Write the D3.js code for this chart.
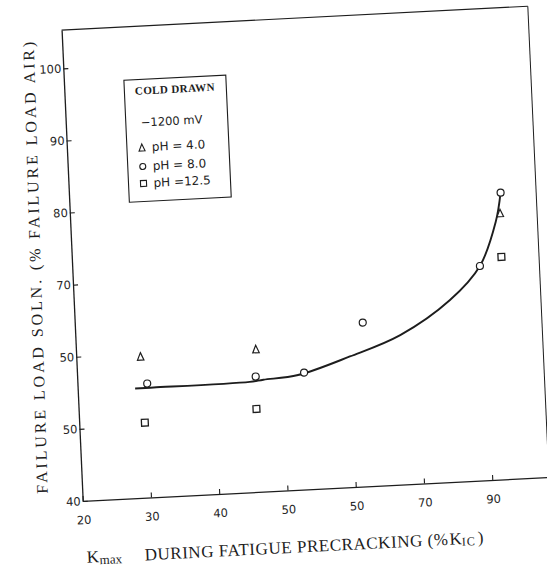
<!DOCTYPE html>
<html><head><meta charset="utf-8">
<script src="https://cdn.jsdelivr.net/npm/d3@7"></script>
<style>html,body{margin:0;padding:0;background:#fff;} svg{display:block}</style>
</head><body>
<svg id="chart" width="547" height="576"></svg>
<script>
// ---- data ----
const xTickValues = [20, 30, 40, 50, 60, 70, 80];
const xTickLabels = ["20", "30", "40", "50", "50", "70", "90"];
const yTickValues = [40, 50, 60, 70, 80, 90, 100];
const yTickLabels = ["40", "50", "50", "70", "80", "90", "100"];

const seriesNames = ["pH = 4.0", "pH = 8.0", "pH =12.5"];
const ph40X = [29.4, 46.3, 82.9];
const ph40Y = [59.6, 59.8, 76.9];
const ph80X = [30.2, 46.1, 53.2, 62.1, 79.6, 83.1];
const ph80Y = [55.8, 56.0, 56.2, 62.7, 69.7, 79.7];
const ph125X = [29.6, 46.0, 82.8];
const ph125Y = [50.4, 51.5, 70.8];
const fitX = [28.4, 31.1, 45.2, 47.2, 52.3, 60.0, 67.5, 75.0, 79.6, 82.2, 83.1];
const fitY = [55.2, 55.2, 55.3, 55.5, 55.9, 58.1, 60.7, 65.2, 69.7, 75.7, 79.7];

const xDomain = [20, 88.3];
const yDomain = [40, 105.3];

// ---- layout ----
const ink = "#1d1d1d";
const svg = d3.select("#chart");
const pxX = 6.835, pxY = 7.218;
const x = d3.scaleLinear().domain(xDomain).range([0, (xDomain[1] - xDomain[0]) * pxX]);
const y = d3.scaleLinear().domain(yDomain).range([0, -(yDomain[1] - yDomain[0]) * pxY]);

// the scanned page is slightly rotated / skewed
const g = svg.append("g").attr("transform", "matrix(0.9987,-0.0512,0.0448,0.999,82.7,501)");

// frame (top and right)
g.append("line").attr("x1", x(xDomain[0])).attr("x2", x(xDomain[1]))
  .attr("y1", y(yDomain[1])).attr("y2", y(yDomain[1]))
  .attr("stroke", ink).attr("stroke-width", 1.1);
g.append("line").attr("x1", x(xDomain[1])).attr("x2", x(xDomain[1]))
  .attr("y1", y(yDomain[0])).attr("y2", y(yDomain[1]))
  .attr("stroke", ink).attr("stroke-width", 1);

// axes
const xAxis = d3.axisBottom(x).tickValues(xTickValues)
  .tickFormat((d, i) => xTickLabels[i]).tickSizeInner(-5).tickSizeOuter(0).tickPadding(15);
const gx = g.append("g").call(xAxis);
const yAxis = d3.axisLeft(y).tickValues(yTickValues)
  .tickFormat((d, i) => yTickLabels[i]).tickSizeInner(-5).tickSizeOuter(0).tickPadding(2);
const gy = g.append("g").call(yAxis);
[gx, gy].forEach(a => {
  a.select(".domain").attr("stroke", ink).attr("stroke-width", 1.3);
  a.selectAll(".tick line").attr("stroke", ink).attr("stroke-width", 1.1);
  a.selectAll(".tick text").attr("fill", "#262626")
    .style("font-family", "'DejaVu Sans', sans-serif").style("font-size", "11.5px");
});

// fitted curve
const line = d3.line().x(d => x(d[0])).y(d => y(d[1])).curve(d3.curveCatmullRom.alpha(0.5));
g.append("path").datum(fitX.map((v, i) => [v, fitY[i]]))
  .attr("d", line).attr("fill", "none").attr("stroke", ink).attr("stroke-width", 1.9);

// marker shapes
function triPath(w, h) { return `M0,${-h/2}L${w/2},${h/2}L${-w/2},${h/2}Z`; }
function sqPath(s) { return `M${-s/2},${-s/2}h${s}v${s}h${-s}Z`; }

g.selectAll(".tri").data(ph40X.map((v, i) => [v, ph40Y[i]])).enter().append("path")
  .attr("transform", d => `translate(${x(d[0])},${y(d[1])})`)
  .attr("d", triPath(6.5, 7.5)).attr("fill", "#fff").attr("stroke", ink).attr("stroke-width", 1.2);
g.selectAll(".circ").data(ph80X.map((v, i) => [v, ph80Y[i]])).enter().append("circle")
  .attr("cx", d => x(d[0])).attr("cy", d => y(d[1])).attr("r", 3.5)
  .attr("fill", "#fff").attr("stroke", ink).attr("stroke-width", 1.2);
g.selectAll(".sq").data(ph125X.map((v, i) => [v, ph125Y[i]])).enter().append("path")
  .attr("transform", d => `translate(${x(d[0])},${y(d[1])})`)
  .attr("d", sqPath(6.8)).attr("fill", "#fff").attr("stroke", ink).attr("stroke-width", 1.3);

// legend
const lg = g.append("g").attr("transform", "translate(60,-418)");
lg.append("rect").attr("width", 102).attr("height", 122)
  .attr("fill", "#fff").attr("stroke", ink).attr("stroke-width", 1.1);
lg.append("text").attr("x", 10.5).attr("y", 15).text("COLD DRAWN")
  .attr("fill", ink).style("font-family", "'Liberation Serif', serif")
  .style("font-size", "11px").style("font-weight", "bold").style("letter-spacing", "0.4px");
lg.append("text").attr("x", 15).attr("y", 47).text("\u22121200 mV")
  .attr("fill", ink).style("font-family", "'DejaVu Sans', sans-serif").style("font-size", "11.5px");
const legRows = [72, 91, 108];
const legShapes = [triPath(6, 7), null, sqPath(6)];
seriesNames.forEach((name, i) => {
  const row = lg.append("g").attr("transform", `translate(0,${legRows[i]})`);
  if (i === 1) {
    row.append("circle").attr("cx", 15).attr("cy", -4).attr("r", 3)
      .attr("fill", "#fff").attr("stroke", ink).attr("stroke-width", 1.1);
  } else {
    row.append("path").attr("transform", "translate(15,-4)").attr("d", legShapes[i])
      .attr("fill", "#fff").attr("stroke", ink).attr("stroke-width", 1.1);
  }
  row.append("text").attr("x", 25).attr("y", 0).text(name)
    .attr("fill", ink).style("font-family", "'DejaVu Sans', sans-serif").style("font-size", "12px");
});

// y axis title
g.append("text")
  .attr("transform", `translate(-31.5,${y(72.6)}) rotate(-89.2)`)
  .attr("text-anchor", "middle")
  .attr("textLength", 452).attr("lengthAdjust", "spacing")
  .attr("fill", ink).style("font-family", "'Liberation Serif', serif").style("font-size", "16px")
  .text("FAILURE LOAD SOLN. (% FAILURE LOAD AIR)");

// x axis title
const xt = g.append("text").attr("fill", ink)
  .style("font-family", "'Liberation Serif', serif");
xt.append("tspan").attr("x", 1.5).attr("y", 62).style("font-size", "17px").text("K");
xt.append("tspan").attr("dy", 2).attr("dx", 0.5).style("font-size", "13px").text("max");
xt.append("tspan").attr("x", 59.5).attr("y", 62.5).style("font-size", "17px")
  .style("letter-spacing", "0.55px").text("DURING FATIGUE PRECRACKING (%");
xt.append("tspan").attr("dx", 1).style("font-size", "17px").text("K");
xt.append("tspan").attr("dy", 1.5).style("font-size", "12px").style("letter-spacing", "1px").text("IC");
xt.append("tspan").attr("dy", -1.5).attr("dx", 2).style("font-size", "17px").text(")");
</script>
</body></html>
